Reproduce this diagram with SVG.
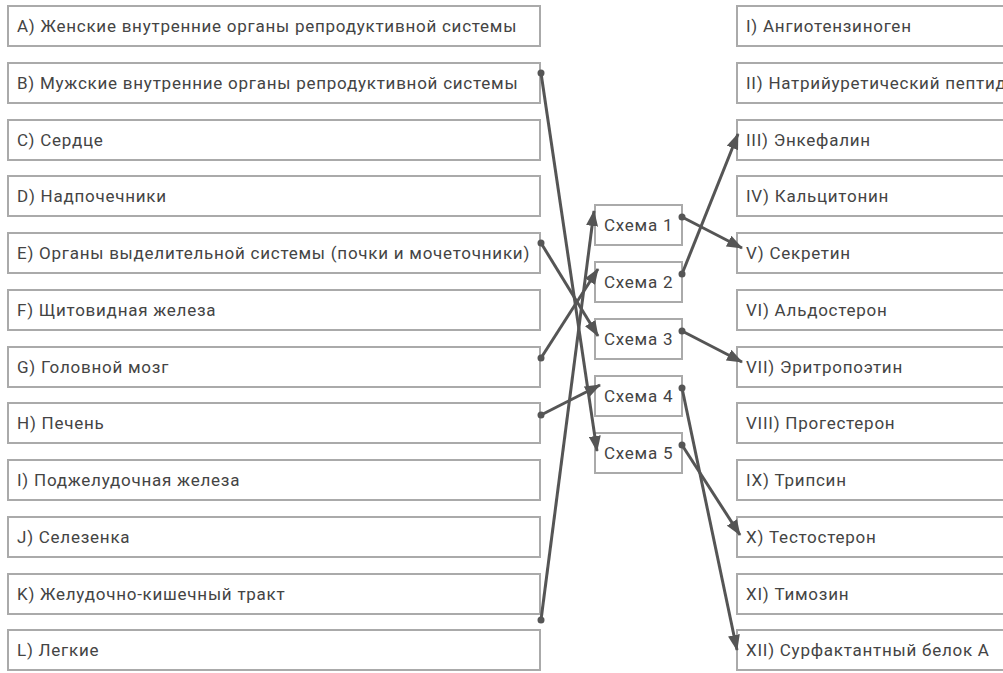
<svg xmlns="http://www.w3.org/2000/svg" width="1003" height="673" viewBox="0 0 1003 673">
<style>
.b{fill:#fff;stroke:#aaa;stroke-width:2}
.t{font-family:Roboto,"Liberation Sans",sans-serif;font-size:17px;letter-spacing:0.75px;fill:#444}
.c{stroke:#555;stroke-width:3;fill:none;marker-start:url(#dot);marker-end:url(#arr)}
</style>
<defs>
<marker id="arr" viewBox="0 0 16 12" refX="15" refY="6" markerWidth="16" markerHeight="12" markerUnits="userSpaceOnUse" orient="auto"><path d="M0,0 L16,6 L0,12 z" fill="#555"/></marker>
<marker id="dot" viewBox="0 0 8 8" refX="4" refY="4" markerWidth="8" markerHeight="8" markerUnits="userSpaceOnUse"><circle cx="4" cy="4" r="3.5" fill="#555"/></marker>
</defs>
<g id="left">
<g id="A"><rect class="b" x="8" y="6" width="532" height="40"/><text class="t" x="17" y="32">A) Женские внутренние органы репродуктивной системы</text></g>
<g id="B"><rect class="b" x="8" y="63" width="532" height="40"/><text class="t" x="17" y="89">B) Мужские внутренние органы репродуктивной системы</text></g>
<g id="C"><rect class="b" x="8" y="120" width="532" height="40"/><text class="t" x="17" y="146">C) Сердце</text></g>
<g id="D"><rect class="b" x="8" y="176" width="532" height="40"/><text class="t" x="17" y="202">D) Надпочечники</text></g>
<g id="E"><rect class="b" x="8" y="233" width="532" height="40"/><text class="t" x="17" y="259">E) Органы выделительной системы (почки и мочеточники)</text></g>
<g id="F"><rect class="b" x="8" y="290" width="532" height="40"/><text class="t" x="17" y="316">F) Щитовидная железа</text></g>
<g id="G"><rect class="b" x="8" y="347" width="532" height="40"/><text class="t" x="17" y="373">G) Головной мозг</text></g>
<g id="H"><rect class="b" x="8" y="403" width="532" height="40"/><text class="t" x="17" y="429">H) Печень</text></g>
<g id="I"><rect class="b" x="8" y="460" width="532" height="40"/><text class="t" x="17" y="486">I) Поджелудочная железа</text></g>
<g id="J"><rect class="b" x="8" y="517" width="532" height="40"/><text class="t" x="17" y="543">J) Селезенка</text></g>
<g id="K"><rect class="b" x="8" y="574" width="532" height="40"/><text class="t" x="17" y="600">K) Желудочно-кишечный тракт</text></g>
<g id="L"><rect class="b" x="8" y="630" width="532" height="40"/><text class="t" x="17" y="656">L) Легкие</text></g>
</g>
<g id="middle">
<g id="S1"><rect class="b" x="595" y="205" width="87" height="40"/><text class="t" x="604" y="231">Схема 1</text></g>
<g id="S2"><rect class="b" x="595" y="262" width="87" height="40"/><text class="t" x="604" y="288">Схема 2</text></g>
<g id="S3"><rect class="b" x="595" y="319" width="87" height="40"/><text class="t" x="604" y="345">Схема 3</text></g>
<g id="S4"><rect class="b" x="595" y="376" width="87" height="40"/><text class="t" x="604" y="402">Схема 4</text></g>
<g id="S5"><rect class="b" x="595" y="433" width="87" height="40"/><text class="t" x="604" y="459">Схема 5</text></g>
</g>
<g id="right">
<g id="R1"><rect class="b" x="737" y="6" width="300" height="40"/><text class="t" x="746" y="32">I) Ангиотензиноген</text></g>
<g id="R2"><rect class="b" x="737" y="63" width="300" height="40"/><text class="t" x="746" y="89">II) Натрийуретический пептид</text></g>
<g id="R3"><rect class="b" x="737" y="120" width="300" height="40"/><text class="t" x="746" y="146">III) Энкефалин</text></g>
<g id="R4"><rect class="b" x="737" y="176" width="300" height="40"/><text class="t" x="746" y="202">IV) Кальцитонин</text></g>
<g id="R5"><rect class="b" x="737" y="233" width="300" height="40"/><text class="t" x="746" y="259">V) Секретин</text></g>
<g id="R6"><rect class="b" x="737" y="290" width="300" height="40"/><text class="t" x="746" y="316">VI) Альдостерон</text></g>
<g id="R7"><rect class="b" x="737" y="347" width="300" height="40"/><text class="t" x="746" y="373">VII) Эритропоэтин</text></g>
<g id="R8"><rect class="b" x="737" y="403" width="300" height="40"/><text class="t" x="746" y="429">VIII) Прогестерон</text></g>
<g id="R9"><rect class="b" x="737" y="460" width="300" height="40"/><text class="t" x="746" y="486">IX) Трипсин</text></g>
<g id="R10"><rect class="b" x="737" y="517" width="300" height="40"/><text class="t" x="746" y="543">X) Тестостерон</text></g>
<g id="R11"><rect class="b" x="737" y="574" width="300" height="40"/><text class="t" x="746" y="600">XI) Тимозин</text></g>
<g id="R12"><rect class="b" x="737" y="630" width="300" height="40"/><text class="t" x="746" y="656">XII) Сурфактантный белок А</text></g>
</g>
<g id="connectors">
<line class="c" x1="541" y1="73" x2="597" y2="451"/>
<line class="c" x1="541" y1="243" x2="598" y2="336"/>
<line class="c" x1="541" y1="358" x2="598" y2="269"/>
<line class="c" x1="541" y1="415" x2="600" y2="385"/>
<line class="c" x1="541" y1="620" x2="594" y2="211"/>
<line class="c" x1="682" y1="217" x2="742" y2="248"/>
<line class="c" x1="682" y1="274" x2="738" y2="134"/>
<line class="c" x1="682" y1="331" x2="742" y2="362"/>
<line class="c" x1="682" y1="388" x2="737" y2="650"/>
<line class="c" x1="682" y1="445" x2="740" y2="535"/>
</g>
</svg>
